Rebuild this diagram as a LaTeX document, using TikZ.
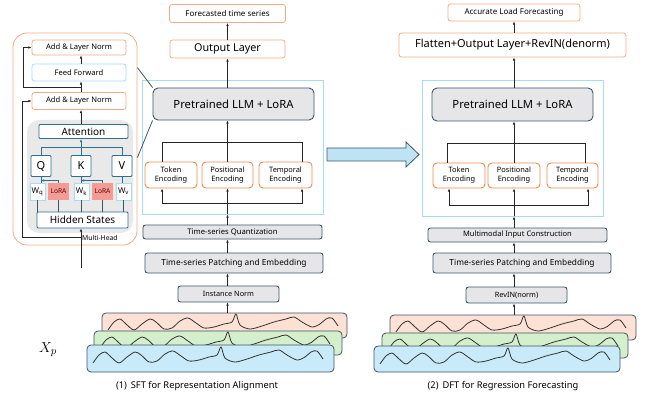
\documentclass[tikz,border=0pt]{standalone}
\usepackage{fontspec}
\setmainfont{Noto Sans}
\usetikzlibrary{arrows.meta,calc,positioning}
\definecolor{boxorange}{HTML}{F2AA86}
\definecolor{encorange}{HTML}{EE8A52}
\definecolor{frameblue}{HTML}{A8DCF2}
\definecolor{darkline}{HTML}{3E5566}
\definecolor{boxgray}{HTML}{E6E6E8}
\definecolor{panelgray}{HTML}{E9E9E9}
\definecolor{attnteal}{HTML}{2F6E8C}
\definecolor{lorared}{HTML}{F29C95}
\definecolor{wavepeach}{HTML}{FCE1D4}
\definecolor{wavegreen}{HTML}{D4EFCC}
\definecolor{waveblue}{HTML}{C9EAF8}
\definecolor{arrowblue}{HTML}{BEE3F4}
\tikzset{
    arr/.style={-{Latex[length=3.2pt,width=2.6pt]}},
    box/.style={rectangle, rounded corners=2.5pt, draw, inner sep=0pt, align=center, line width=0.8pt},
    obox/.style={box, draw=boxorange},
    bbox/.style={box, draw=frameblue},
    enc/.style={box, draw=encorange, rounded corners=4pt, line width=0.9pt, minimum width=52, minimum height=26, font=\fontsize{7.4}{9}\selectfont},
    gbox/.style={box, draw=darkline, fill=boxgray, line width=0.9pt},
    tbox/.style={box, draw=attnteal, fill=white, rounded corners=1pt, line width=0.9pt},
    wbox/.style={box, draw=frameblue, fill=white, rounded corners=0pt, minimum width=15, minimum height=17, font=\fontsize{8}{8}\selectfont},
    lbox/.style={box, draw=none, fill=lorared, rounded corners=0pt, minimum width=21, minimum height=17, text=black!60!red, font=\fontsize{6.6}{8}\selectfont},
    frame/.style={rectangle, draw=frameblue, line width=0.9pt, inner sep=0pt},
    layer/.style={rectangle, draw=darkline, rounded corners=4pt, line width=0.8pt, inner sep=0pt, minimum width=245, minimum height=25},
    wave/.style={draw=black!80, line width=0.8pt},
    link/.style={draw=black!85, line width=0.8pt}
}
\newcommand{\tswave}[2]{\draw[wave, shift={(#1,#2)}] plot[smooth, tension=0.5] coordinates {(0,14) (6,6) (12,3) (18,8) (26,14) (34,8) (42,3) (48,6) (56,13) (64,12) (72,5) (80,2) (88,7) (96,12) (106,11) (116,8) (124,6) (128,-2) (132,9) (142,13) (154,10) (166,6) (178,3) (186,1) (194,6) (204,11) (212,8) (218,3) (224,2) (230,10)};}

\begin{document}
\begin{tikzpicture}[x=1pt, y=-1pt]
\useasboundingbox (0,0) rectangle (652,398);

% transformer block
\node[obox, rounded corners=14pt, minimum width=124, minimum height=212] (block) at (75,139) {};
\node[fill=panelgray, rounded corners=12pt, inner sep=0pt, minimum width=106, minimum height=113] (mha) at (80,176.5) {};
\node[obox, minimum width=94, minimum height=15, font=\fontsize{7.6}{8}\selectfont] (addnorm1) at (79,47.5) {Add \& Layer Norm};
\node[bbox, minimum width=94, minimum height=17, font=\fontsize{7.6}{8}\selectfont] (ff) at (79,72.5) {Feed Forward};
\node[obox, minimum width=94, minimum height=17, font=\fontsize{7.6}{8}\selectfont] (addnorm2) at (79,101) {Add \& Layer Norm};
\node[tbox, minimum width=89, minimum height=14, font=\fontsize{10}{10}\selectfont] (attn) at (83.5,131.5) {Attention};
\node[tbox, minimum width=20, minimum height=21, font=\fontsize{11}{11}\selectfont] (q) at (41,166) {Q};
\node[tbox, minimum width=20, minimum height=21, font=\fontsize{11}{11}\selectfont] (k) at (81,166) {K};
\node[tbox, minimum width=20, minimum height=21, font=\fontsize{11}{11}\selectfont] (v) at (122,166) {V};
\node[wbox] (wq) at (37.5,191.5) {\textbf{W}\textsubscript{q}};
\node[lbox] (lora1) at (58.5,191.5) {LoRA};
\node[wbox] (wk) at (81.5,191.5) {\textbf{W}\textsubscript{k}};
\node[lbox] (lora2) at (102.5,191.5) {LoRA};
\node[wbox] (wv) at (123.5,191.5) {\textbf{W}\textsubscript{v}};
\node[tbox, minimum width=91, minimum height=16, font=\fontsize{10}{10}\selectfont] (hid) at (82.5,220) {Hidden States};
\node[anchor=west, inner sep=0pt, font=\fontsize{6.8}{7}\selectfont] (mhlabel) at (82,237.5) {Multi-Head};

\foreach \b in {wq,lora1,wk,lora2,wv}
    \draw[darkline, line width=0.8pt] (hid.north -| \b) -- (\b.south);
\coordinate (qkbus) at (81,147);
\draw[attnteal, line width=0.8pt] (q.north) |- (v.north |- qkbus) -- (v.north);
\draw[attnteal, line width=0.8pt, arr] (k.north) -- (attn.south -| k.north);
\draw[attnteal, line width=0.8pt] (q.south) -- (q.south |- wq.north);
\draw[attnteal, line width=0.8pt] (k.south) -- (k.south |- wk.north);
\draw[attnteal, line width=0.8pt] (v.south) -- (v.south |- wv.north);
\draw[attnteal, line width=0.8pt, arr] (lora1.north) |- ($(q.south)+(0,3.5)$);
\draw[attnteal, line width=0.8pt, arr] (lora2.north) |- ($(k.south)+(0,3.5)$);

\coordinate (inlet) at (81,268);
\coordinate (split1) at (81,237);
\coordinate (split2) at (81,87);
\draw[link, arr] (inlet) -- (hid.south -| inlet);
\draw[link, arr] (split1) -| ($(addnorm2.west)+(-9,0)$) -- (addnorm2.west);
\draw[link, arr] (split2) -| ($(addnorm1.west)+(-8,0)$) -- (addnorm1.west);
\draw[link, arr] (attn.north -| split2) -- (addnorm2.south -| split2);
\draw[link, arr] (addnorm2.north -| split2) -- (ff.south -| split2);
\draw[link, arr] (ff.north -| split2) -- (addnorm1.south -| split2);

% (1) SFT
\node[obox, minimum width=116, minimum height=18, font=\fontsize{8}{8}\selectfont] (out1) at (227.5,13.5) {Forecasted time series};
\node[obox, minimum width=115, minimum height=18, font=\fontsize{10.8}{11}\selectfont] (outlayer) at (227.5,49) {Output Layer};
\node[frame, minimum width=181, minimum height=134] (frame1) at (232.5,147) {};
\node[gbox, rounded corners=5pt, minimum width=161, minimum height=32, font=\fontsize{11.3}{12}\selectfont] (llm1) at (233.5,104) {Pretrained LLM + LoRA};
\node[enc] (tok1) at (171,175) {Token\\Encoding};
\node[enc, minimum width=51] (pos1) at (227.5,175) {Positional\\Encoding};
\node[enc, minimum width=53] (tem1) at (285.5,175) {Temporal\\Encoding};
\node[gbox, minimum width=179, minimum height=14, font=\fontsize{7.7}{8}\selectfont] (quant1) at (232.5,232) {Time-series Quantization};
\node[gbox, minimum width=178, minimum height=20, font=\fontsize{8.3}{9}\selectfont] (patch1) at (234,263) {Time-series Patching and Embedding};
\node[gbox, minimum width=101, minimum height=16, font=\fontsize{7.3}{8}\selectfont] (norm1) at (228.5,294) {Instance Norm};

\draw[darkline, line width=0.8pt] ($(block.north east)+(0,35)$) -- (llm1.north west);
\draw[darkline, line width=0.8pt] ($(block.north east)+(0,125)$) -- (llm1.south west);

\coordinate (tb1) at (162,142);
\coordinate (tb1r) at (302,142);
\coordinate (bb1) at (162,203);
\coordinate (bb1r) at (302,203);
\draw[link, arr] (outlayer.north) -- (out1.south);
\draw[link, arr] (llm1.north -| outlayer) -- (outlayer.south);
\draw[link] (tb1 |- tok1.north) -- (tb1) -- (tb1r) -- (tb1r |- tem1.north);
\draw[link, arr] (pos1.north) -- (pos1.north |- llm1.south);
\draw[link, arr] (pos1.south |- bb1) -| (tok1.south -| bb1);
\draw[link, arr] (pos1.south |- bb1) -| (tem1.south -| bb1r);
\draw[link, arr] (pos1.south |- frame1.south) -- (pos1.south);
\draw[link, arr] (quant1.north -| pos1) -- (frame1.south -| pos1);
\draw[link, arr] (patch1.north -| pos1) -- (quant1.south -| pos1);
\draw[link, arr] (norm1.north -| pos1) -- (patch1.south -| pos1);

\node[layer, fill=wavepeach] (lay1o) at (224.5,325.5) {};
\tswave{108}{316}
\node[layer, fill=wavegreen, minimum width=248, minimum height=24] (lay1g) at (218,343) {};
\tswave{100}{334}
\node[layer, fill=waveblue, minimum width=247, minimum height=27] (lay1b) at (210.5,358.5) {};
\tswave{93}{349}
\draw[link, arr] (lay1o.north -| pos1) -- (norm1.south -| pos1);

\node[font=\fontsize{15}{16}\selectfont] (xp) at (48,350) {$X_p$};
\node[font=\fontsize{9.3}{10}\selectfont] (cap1) at (197,386) {(1)\, SFT for Representation Alignment};

\draw[darkline, fill=arrowblue, line width=0.8pt] (327,148) -- (406,148) -- (406,142) -- (419,154.5) -- (406,167) -- (406,161) -- (327,161) -- cycle;

% (2) DFT
\node[obox, minimum width=132, minimum height=17, font=\fontsize{8}{8}\selectfont] (acc) at (514,12.5) {Accurate Load Forecasting};
\node[obox, minimum width=227, minimum height=24, font=\fontsize{11}{11}\selectfont] (flat) at (512.5,45) {Flatten+Output Layer+RevIN(denorm)};
\node[frame, minimum width=181, minimum height=136] (frame2) at (512.5,148) {};
\node[gbox, rounded corners=5pt, minimum width=161, minimum height=33, font=\fontsize{11.3}{12}\selectfont] (llm2) at (512.5,104.5) {Pretrained LLM + LoRA};
\node[enc, minimum height=25] (tok2) at (459,175.5) {Token\\Encoding};
\node[enc, minimum height=25] (pos2) at (514,175.5) {Positional\\Encoding};
\node[enc, minimum height=25, minimum width=51] (tem2) at (572.5,175.5) {Temporal\\Encoding};
\node[gbox, minimum width=179, minimum height=14, font=\fontsize{7.5}{8}\selectfont] (mic) at (517.5,235) {Multimodal Input Construction};
\node[gbox, minimum width=178, minimum height=20, font=\fontsize{8.3}{9}\selectfont] (patch2) at (522,263) {Time-series Patching and Embedding};
\node[gbox, minimum width=101, minimum height=16, font=\fontsize{7.3}{8}\selectfont] (revin) at (516.5,295) {RevIN(norm)};

\coordinate (tb2) at (447,143);
\coordinate (tb2r) at (585,143);
\coordinate (bb2) at (449,205);
\coordinate (bb2r) at (588,205);
\draw[link, arr] (flat.north -| pos2) -- (acc.south -| pos2);
\draw[link, arr] (llm2.north -| pos2) -- (flat.south -| pos2);
\draw[link] (tb2 |- tok2.north) -- (tb2) -- (tb2r) -- (tb2r |- tem2.north);
\draw[link, arr] (pos2.north) -- (pos2.north |- llm2.south);
\draw[link, arr] (pos2.south |- bb2) -| (tok2.south -| bb2);
\draw[link, arr] (pos2.south |- bb2) -| (tem2.south -| bb2r);
\draw[link, arr] (pos2.south |- frame2.south) -- (pos2.south);
\draw[link, arr] (mic.north -| pos2) -- (frame2.south -| pos2);
\draw[link, arr] (patch2.north -| pos2) -- (mic.south -| pos2);
\draw[link, arr] (revin.north -| pos2) -- (patch2.south -| pos2);

\node[layer, fill=wavepeach, minimum width=246] (lay2o) at (513,327.5) {};
\tswave{396}{318}
\node[layer, fill=wavegreen, minimum width=246] (lay2g) at (505,345.5) {};
\tswave{388}{336}
\node[layer, fill=waveblue, minimum width=246, minimum height=26] (lay2b) at (497,359) {};
\tswave{380}{350}
\draw[link, arr] (lay2o.north -| pos2) -- (revin.south -| pos2);

\node[font=\fontsize{9.3}{10}\selectfont] (cap2) at (503,386) {(2)\, DFT for Regression Forecasting};
\end{tikzpicture}
\end{document}
